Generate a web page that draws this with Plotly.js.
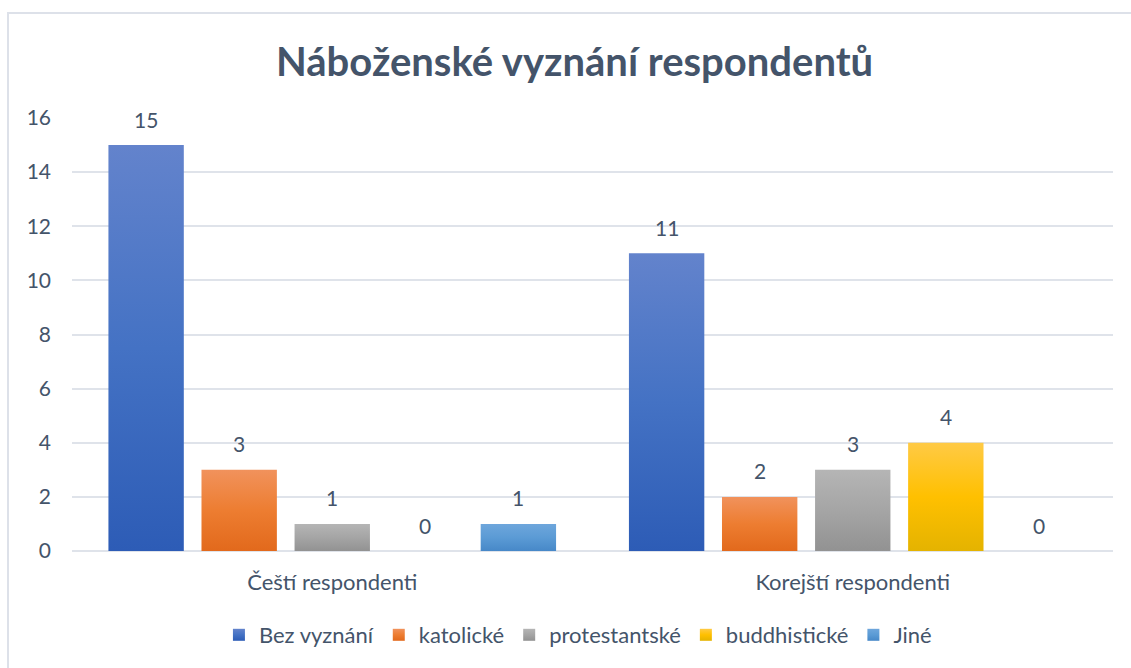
<!DOCTYPE html>
<html>
<head>
<meta charset="utf-8">
<script src="https://cdn.plot.ly/plotly-3.0.1.min.js"></script>
<style>
  html, body { margin: 0; padding: 0; background: #ffffff; }
  #frame { position: absolute; left: 7px; top: 12px; width: 1124px; height: 656px;
           border-top: 2px solid #dde1e9; border-left: 2px solid #dde1e9; }
  #chart { position: absolute; left: 0; top: 0; width: 1131px; height: 668px; }
</style>
</head>
<body>
<div id="frame"></div>
<div id="chart"></div>
<script>
const categories = ["Čeští respondenti", "Korejští respondenti"];
const seriesNames = ["Bez vyznání", "katolické", "protestantské", "buddhistické", "Jiné"];
const bezVyznani = [15, 11];
const katolicke = [3, 2];
const protestantske = [1, 3];
const buddhisticke = [0, 4];
const jine = [1, 0];
const seriesValues = [bezVyznani, katolicke, protestantske, buddhisticke, jine];

const baseColors = ["#4472c4", "#ed7d31", "#a5a5a5", "#ffc000", "#5b9bd5"];
const gradTop = ["#6383cc", "#f1925c", "#b5b5b5", "#ffca45", "#6ea6dc"];
const gradBottom = ["#2d5cb6", "#e2691c", "#929292", "#e4b300", "#4788c8"];

const textColor = "#44546a";
const font = "Lato, 'Open Sans', sans-serif";

const traces = seriesNames.map((name, i) => ({
  type: "bar",
  name: name,
  x: categories,
  y: seriesValues[i],
  marker: { color: baseColors[i] },
  hoverinfo: "skip"
}));

// value labels placed through the axes' own scales
const slotPx = 93;
const annotations = [];
seriesValues.forEach((vals, i) => {
  vals.forEach((v, j) => {
    annotations.push({
      x: categories[j], y: v, xref: "x", yref: "y",
      text: String(v), showarrow: false,
      xanchor: "center", yanchor: "middle",
      xshift: (i - (seriesValues.length - 1) / 2) * slotPx,
      yshift: 26,
      font: { family: font, size: 21, color: textColor }
    });
  });
});

const layout = {
  width: 1131,
  height: 668,
  paper_bgcolor: "rgba(0,0,0,0)",
  plot_bgcolor: "rgba(0,0,0,0)",
  margin: { l: 72, r: 18, t: 118, b: 117 },
  barmode: "group",
  bargap: 0.106,
  bargroupgap: 0.19,
  font: { family: font, size: 21, color: textColor },
  title: {
    text: "<b>Náboženské vyznání respondentů</b>",
    font: { family: font, size: 40, color: textColor },
    x: 0.508, xanchor: "center",
    y: 0.907, yanchor: "middle", yref: "container"
  },
  xaxis: {
    type: "category",
    showgrid: false,
    showline: false,
    zeroline: false,
    ticks: "",
    ticklabelstandoff: 16,
    tickfont: { family: font, size: 22, color: textColor }
  },
  yaxis: {
    range: [0, 16],
    dtick: 2,
    tick0: 0,
    showgrid: true,
    gridcolor: "#dfe3ea",
    gridwidth: 2,
    zeroline: true,
    zerolinecolor: "#dfe3ea",
    zerolinewidth: 2,
    showline: false,
    ticks: "",
    ticklabelstandoff: 20,
    tickfont: { family: font, size: 21, color: textColor }
  },
  annotations: annotations,
  legend: {
    orientation: "h",
    x: 0.486, xanchor: "center",
    y: -0.194, yanchor: "middle",
    font: { family: font, size: 22, color: textColor },
    itemclick: false,
    itemdoubleclick: false
  },
  showlegend: true
};

Plotly.newPlot("chart", traces, layout, { displayModeBar: false, staticPlot: true }).then(gd => {
  const svg = gd.querySelector("svg.main-svg");
  const ns = "http://www.w3.org/2000/svg";
  let defs = svg.querySelector("defs");
  if (!defs) { defs = document.createElementNS(ns, "defs"); svg.insertBefore(defs, svg.firstChild); }
  gradTop.forEach((top, i) => {
    const lg = document.createElementNS(ns, "linearGradient");
    lg.setAttribute("id", "barGrad" + i);
    lg.setAttribute("x1", "0"); lg.setAttribute("y1", "0");
    lg.setAttribute("x2", "0"); lg.setAttribute("y2", "1");
    [[0, top], [0.5, baseColors[i]], [1, gradBottom[i]]].forEach(([o, c]) => {
      const st = document.createElementNS(ns, "stop");
      st.setAttribute("offset", String(o));
      st.setAttribute("stop-color", c);
      lg.appendChild(st);
    });
    defs.appendChild(lg);
  });
  gd.querySelectorAll(".barlayer .trace").forEach((tr, i) => {
    tr.querySelectorAll(".point path").forEach(p => {
      p.style.fill = "url(#barGrad" + i + ")";
    });
  });
  gd.querySelectorAll(".legend .traces").forEach((tr, i) => {
    tr.querySelectorAll(".legendpoints path").forEach(p => {
      p.style.fill = "url(#barGrad" + i + ")";
    });
  });
});
</script>
</body>
</html>
